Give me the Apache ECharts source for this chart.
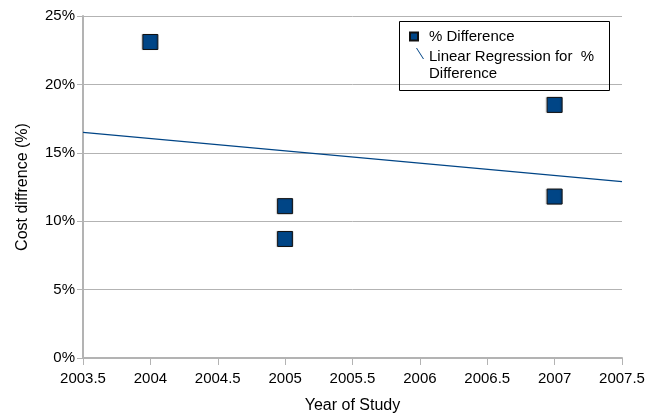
<!DOCTYPE html>
<html>
<head>
<meta charset="utf-8">
<script src="https://cdn.jsdelivr.net/npm/echarts@6/dist/echarts.min.js"></script>
<style>html,body{margin:0;padding:0;background:#fff;overflow:hidden}#c{width:660px;height:419px}</style>
</head>
<body>
<div id="c"></div>
<script>
// Data
var years = [2004, 2005, 2005, 2007, 2007];
var pctDifference = [23.1, 11.1, 8.7, 18.5, 11.8];
var regressionX = [2003.5, 2007.5];
var regressionY = [16.5, 12.9];
var seriesNames = ['% Difference', 'Linear Regression for  %\nDifference'];
var xTitle = 'Year of Study';
var yTitle = 'Cost diffrence (%)';

var FONT = '"Liberation Sans", Arial, Helvetica, sans-serif';
var BLUE = '#004586';
var GRID = '#b3b3b3';

var chart = echarts.init(document.getElementById('c'));
chart.setOption({
  animation: false,
  textStyle: { fontFamily: FONT },
  grid: { left: 83, right: 38, top: 16, bottom: 60, containLabel: false },
  xAxis: {
    type: 'value', min: 2003.5, max: 2007.5, interval: 0.5,
    name: xTitle, nameLocation: 'middle', nameGap: 40,
    nameTextStyle: { fontSize: 16, color: '#000', fontFamily: FONT },
    axisLine: { show: true, onZero: false, lineStyle: { color: GRID, width: 2 } },
    axisTick: { show: true, length: 7, lineStyle: { color: GRID } },
    axisLabel: { fontSize: 15, color: '#000', margin: 13, fontFamily: FONT,
      formatter: function (v) { return String(v); } },
    splitLine: { show: false }
  },
  yAxis: {
    type: 'value', min: 0, max: 25, interval: 5,
    name: yTitle, nameLocation: 'middle', nameGap: 52, nameRotate: 90,
    nameTextStyle: { fontSize: 16, color: '#000', fontFamily: FONT },
    axisLine: { show: true, onZero: false, lineStyle: { color: GRID, width: 2 } },
    axisTick: { show: true, length: 6, lineStyle: { color: GRID } },
    axisLabel: { fontSize: 15, color: '#000', margin: 8, fontFamily: FONT,
      formatter: function (v) { return v + '%'; } },
    splitLine: { show: true, lineStyle: { color: GRID, width: 1 } }
  },
  legend: [
    {
      data: [{ name: seriesNames[0], icon: 'path://M0,0h10v10h-10z' }],
      orient: 'vertical', left: 409, top: 29, padding: 0,
      itemWidth: 20, itemHeight: 8,
      textStyle: { fontSize: 15, color: '#000', fontFamily: FONT }
    },
    {
      data: [{ name: seriesNames[1], icon: 'path://M0,0L1,0L8,11L7,11Z M0,34L0.05,34L0,34Z' }],
      orient: 'vertical', left: 416, top: 48, padding: 0,
      itemWidth: 8, itemHeight: 34,
      textStyle: { fontSize: 15, color: '#000', fontFamily: FONT, lineHeight: 17 }
    }
  ],
  graphic: [{
    type: 'rect', left: 399, top: 21, z: 100,
    shape: { width: 210, height: 69 },
    style: { fill: 'rgba(0,0,0,0)', stroke: '#000', lineWidth: 1 }
  }],
  series: [
    {
      name: seriesNames[0], type: 'scatter',
      symbol: 'rect', symbolSize: 15,
      itemStyle: { color: BLUE, opacity: 1, borderColor: '#111', borderWidth: 1,
        shadowColor: 'rgba(0,0,0,0.25)', shadowOffsetX: -1, shadowOffsetY: 0, shadowBlur: 1 },
      data: years.map(function (x, i) { return [x, pctDifference[i]]; }),
      z: 3
    },
    {
      name: seriesNames[1], type: 'line',
      symbol: 'none', lineStyle: { color: BLUE, width: 1.3 }, itemStyle: { color: BLUE },
      data: regressionX.map(function (x, i) { return [x, regressionY[i]]; }),
      z: 2
    }
  ]
});
</script>
</body>
</html>
